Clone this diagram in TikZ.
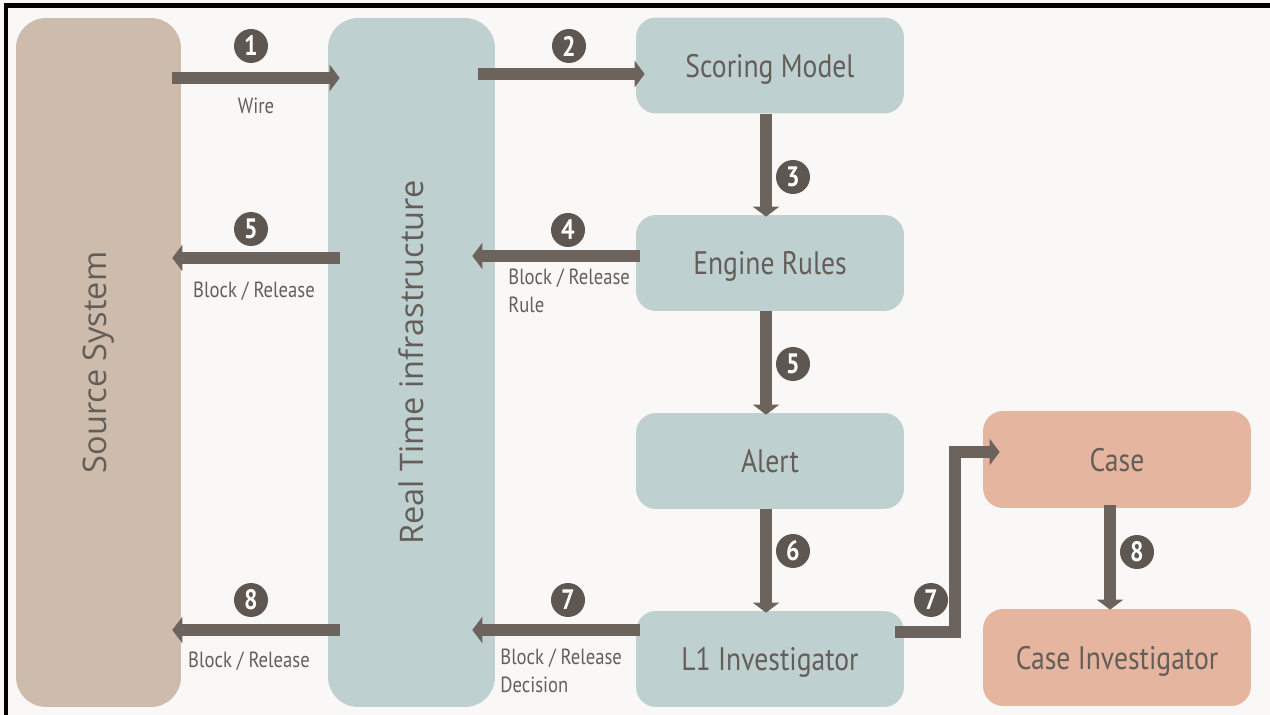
\documentclass[tikz,border=0pt]{standalone}
\usepackage{fontspec}
\setmainfont{Open Sans}
\newfontfamily\boxfont[FakeStretch=0.85]{PT Sans}
\usetikzlibrary{arrows.meta, positioning, calc}
\definecolor{pagebg}{RGB}{250,248,246}
\definecolor{srctan}{RGB}{205,187,171}
\definecolor{infrablue}{RGB}{191,208,209}
\definecolor{casesalmon}{RGB}{230,181,159}
\definecolor{flowgray}{RGB}{107,99,92}
\definecolor{badgegray}{RGB}{94,86,80}
\definecolor{labelgray}{RGB}{100,94,89}
\tikzset{
  block/.style={rectangle, rounded corners=0.4cm, minimum width=5.36cm,
    minimum height=1.92cm, text centered, inner sep=0pt, text=labelgray,
    text depth=0pt, font=\boxfont\fontsize{18.5}{22}\selectfont},
  infrablock/.style={block, fill=infrablue},
  caseblock/.style={block, fill=casesalmon, minimum height=1.94cm},
  pillar/.style={rectangle, rounded corners=0.6cm, minimum width=3.3cm,
    minimum height=13.78cm, inner sep=0pt},
  pillartext/.style={rotate=90, text=labelgray, inner sep=0pt,
    font=\fontsize{18.5}{22}\selectfont},
  badge/.style={circle, fill=badgegray, text=white, minimum size=0.68cm,
    inner sep=0pt, font=\boxfont\bfseries\fontsize{16}{16}\selectfont},
  note/.style={text=labelgray, inner sep=0pt, align=left,
    font=\boxfont\fontsize{12.5}{12.5}\selectfont},
  flow/.style={-{Triangle[length=0.2cm, width=0.52cm]}, line width=0.24cm,
    draw=flowgray, line join=miter},
}

\begin{document}
\begin{tikzpicture}[x=0.02cm, y=-0.02cm]
  \useasboundingbox (0,0) rectangle (1270,715);
  \fill[pagebg] (0,0) rectangle (1270,715);
  \draw[line width=0.1cm] (6,715) -- (6,6) -- (1270,6);

  % the two tall columns
  \node[pillar, fill=srctan] (src) at (98.5,362.5) {};
  \node[pillartext] (srctxt) at (src) {Source System};
  \node[pillar, fill=infrablue, minimum width=3.34cm] (rti) at (411.5,362.5) {};
  \node[pillartext] (rtitxt) at (rti) {Real Time infrastructure};

  \node[infrablock] (score) at (770,65.5) {Scoring Model};
  \node[infrablock] (eng) at (770,263) {Engine Rules};
  \node[infrablock] (alert) at (770,461) {Alert};
  \node[infrablock] (lone) at (770,659) {L1 Investigator};
  \node[caseblock] (case) at (1117,459.5) {Case};
  \node[caseblock] (cinv) at (1117,657.5) {Case Investigator};

  % connectors
  \draw[flow] ($(src.east |- 0,78)+(-9,0)$) -- ($(rti.west |- 0,78)+(12,0)$);
  \draw[flow] ($(rti.east |- 0,74)+(-17,0)$) -- ($(score.west |- 0,74)+(9,0)$);
  \draw[flow] ($(score.south)+(-4,0)$) -- ($(eng.north)+(-4,2)$);
  \draw[flow] ($(eng.west |- 0,256)+(4,0)$) -- ($(rti.east |- 0,256)+(-23,0)$);
  \draw[flow] ($(rti.west |- 0,258)+(12,0)$) -- ($(src.east |- 0,258)+(-9,0)$);
  \draw[flow] ($(eng.south)+(-4,0)$) -- ($(alert.north)+(-4,2)$);
  \draw[flow] ($(alert.south)+(-4,0)$) -- ($(lone.north)+(-4,2)$);
  \draw[flow] ($(lone.west |- 0,630)+(4,0)$) -- ($(rti.east |- 0,630)+(-23,0)$);
  \draw[flow] ($(rti.west |- 0,630)+(12,0)$) -- ($(src.east |- 0,630)+(-9,0)$);
  \draw[flow] ($(lone.east |- 0,632)+(-9,0)$) -- ++(60,0) |- ($(case.west |- 0,452)+(17,0)$);
  \draw[flow] ($(case.south)+(-7,-3)$) -- ($(cinv.north)+(-7,1)$);

  % step numbers
  \node[badge] (b1) at (251,46) {1};
  \node[badge] (b2) at (569,46) {2};
  \node[badge] (b3) at (793,177) {3};
  \node[badge] (b4) at (568,230) {4};
  \node[badge] (b5a) at (251,229) {5};
  \node[badge] (b5b) at (793,364) {5};
  \node[badge] (b6) at (793,551) {6};
  \node[badge] (b7a) at (568,600) {7};
  \node[badge] (b7b) at (931,600) {7};
  \node[badge] (b8a) at (251,600) {8};
  \node[badge] (b8b) at (1137,552) {8};

  \node[note] (wire) at (256,106) {Wire};
  \node[note] (rel5) at (254,291) {Block / Release};
  \node[note, anchor=north west] (rel4) at (508,269) {Block / Release\\[3pt]Rule};
  \node[note] (rel8) at (249,661) {Block / Release};
  \node[note, anchor=north west] (rel7) at (500,649) {Block / Release\\[3pt]Decision};
\end{tikzpicture}
\end{document}
